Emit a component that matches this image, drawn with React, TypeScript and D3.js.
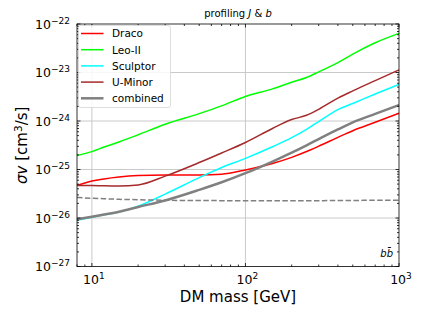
import React, { useEffect, useRef } from 'react';
import * as d3 from 'd3';

// DM masses [GeV] at which the limits are read
const masses = [8, 10, 12, 15, 20, 30, 50, 70, 100, 150, 200, 250, 300, 400, 500, 700, 1000];

// upper limits on <sigma v> [cm^3/s]
const draco = [4.7e-26, 5.8e-26, 6.4e-26, 7.0e-26, 7.5e-26, 7.7e-26, 7.7e-26, 8.0e-26, 9.8e-26, 1.33e-25, 1.78e-25, 2.35e-25, 3.03e-25, 4.6e-25, 6.3e-25, 9.4e-25, 1.45e-24];
const leoII = [1.95e-25, 2.34e-25, 2.9e-25, 3.7e-25, 5.2e-25, 8.6e-25, 1.42e-24, 2.05e-24, 3.2e-24, 4.6e-24, 6.3e-24, 7.9e-24, 1.03e-23, 1.6e-23, 2.4e-23, 4.1e-23, 6.4e-23];
const sculptor = [9.0e-27, 1.04e-26, 1.16e-26, 1.33e-26, 1.75e-26, 3.1e-26, 6.8e-26, 1.1e-25, 1.7e-25, 2.95e-25, 4.55e-25, 6.75e-25, 9.7e-25, 1.72e-24, 2.3e-24, 3.6e-24, 5.7e-24];
const uMinor = [4.7e-26, 4.7e-26, 4.6e-26, 4.55e-26, 4.8e-26, 7.3e-26, 1.39e-25, 2.19e-25, 3.6e-25, 7.0e-25, 1.07e-24, 1.31e-24, 1.74e-24, 2.96e-24, 4.17e-24, 6.8e-24, 1.13e-23];
const combined = [9.4e-27, 1.06e-26, 1.18e-26, 1.35e-26, 1.69e-26, 2.3e-26, 3.8e-26, 5.45e-26, 8.4e-26, 1.46e-25, 2.23e-25, 3.16e-25, 4.24e-25, 6.7e-25, 9.4e-25, 1.4e-24, 2.14e-24];
const thermal = [2.65e-26, 2.55e-26, 2.5e-26, 2.43e-26, 2.38e-26, 2.32e-26, 2.29e-26, 2.28e-26, 2.27e-26, 2.27e-26, 2.27e-26, 2.28e-26, 2.28e-26, 2.29e-26, 2.3e-26, 2.32e-26, 2.33e-26];

const xTicks = [10, 100, 1000];
const xTickExps = ['1', '2', '3'];
const yTicks = [1e-27, 1e-26, 1e-25, 1e-24, 1e-23, 1e-22];
const yTickExps = ['\u221227', '\u221226', '\u221225', '\u221224', '\u221223', '\u221222'];

const series = [
  { name: 'Draco', values: draco, color: '#ff0000', width: 1.5 },
  { name: 'Leo-II', values: leoII, color: '#00ff00', width: 1.5 },
  { name: 'Sculptor', values: sculptor, color: '#00ffff', width: 1.5 },
  { name: 'U-Minor', values: uMinor, color: '#a52a2a', width: 1.5 },
  { name: 'combined', values: combined, color: '#808080', width: 2.5 },
];

const FONT = '"DejaVu Sans", sans-serif';

export default function App() {
  const svgRef = useRef<SVGSVGElement>(null);

  useEffect(() => {
    const svg = d3.select(svgRef.current);
    svg.selectAll('*').remove();

    const width = 421;
    const height = 316;
    const left = 77, right = 399, top = 24, bottom = 266.5;

    const x = d3.scaleLog().domain([8, 1000]).range([left, right]);
    const y = d3.scaleLog().domain([1e-27, 1e-22]).range([bottom, top]);

    svg.attr('width', width).attr('height', height).style('font-family', FONT);

    svg.append('rect').attr('width', width).attr('height', height).attr('fill', '#fff');

    // grid at the decades
    const grid = svg.append('g').attr('stroke', '#c4c4c4').attr('stroke-width', 0.9);
    xTicks.filter(t => t < 1000).forEach(t => {
      grid.append('line').attr('x1', x(t)).attr('x2', x(t)).attr('y1', top).attr('y2', bottom);
    });
    yTicks.filter(t => t > 1e-27 && t < 1e-22).forEach(t => {
      grid.append('line').attr('x1', left).attr('x2', right).attr('y1', y(t)).attr('y2', y(t));
    });

    // curves
    const line = d3.line<[number, number]>()
      .x(d => x(d[0]))
      .y(d => y(d[1]))
      .curve(d3.curveMonotoneX);

    series.forEach(s => {
      svg.append('path')
        .datum(masses.map((m, i) => [m, s.values[i]] as [number, number]))
        .attr('d', line)
        .attr('fill', 'none')
        .attr('stroke', s.color)
        .attr('stroke-width', s.width);
    });

    svg.append('path')
      .datum(masses.map((m, i) => [m, thermal[i]] as [number, number]))
      .attr('d', line)
      .attr('fill', 'none')
      .attr('stroke', '#808080')
      .attr('stroke-width', 1.5)
      .attr('stroke-dasharray', '5.5,2.4');

    // ticks pointing inward, on all four sides
    const ticks = svg.append('g').attr('stroke', '#000').attr('stroke-width', 0.8);
    const xMinor: number[] = [];
    [1, 10, 100].forEach(d => { for (let k = 2; k <= 9; k++) if (d * k >= 8 && d * k < 1000) xMinor.push(d * k); });
    const yMinor: number[] = [];
    [1e-27, 1e-26, 1e-25, 1e-24, 1e-23].forEach(d => { for (let k = 2; k <= 9; k++) yMinor.push(d * k); });

    const xTick = (t: number, len: number) => {
      ticks.append('line').attr('x1', x(t)).attr('x2', x(t)).attr('y1', bottom).attr('y2', bottom - len);
      ticks.append('line').attr('x1', x(t)).attr('x2', x(t)).attr('y1', top).attr('y2', top + len);
    };
    const yTick = (t: number, len: number) => {
      ticks.append('line').attr('x1', left).attr('x2', left + len).attr('y1', y(t)).attr('y2', y(t));
      ticks.append('line').attr('x1', right).attr('x2', right - len).attr('y1', y(t)).attr('y2', y(t));
    };
    xTicks.forEach(t => xTick(t, 3.5));
    xMinor.forEach(t => xTick(t, 2));
    yTicks.forEach(t => yTick(t, 3.5));
    yMinor.forEach(t => yTick(t, 2));

    // frame
    svg.append('rect')
      .attr('x', left).attr('y', top)
      .attr('width', right - left).attr('height', bottom - top)
      .attr('fill', 'none').attr('stroke', '#000').attr('stroke-width', 0.8);

    // tick labels
    xTicks.forEach((t, i) => {
      const txt = svg.append('text')
        .attr('x', x(t) + 2).attr('y', 284)
        .attr('text-anchor', 'middle')
        .attr('font-size', 12.5).attr('fill', '#000');
      txt.append('tspan').text('10');
      txt.append('tspan').attr('dy', -5).attr('font-size', 9).text(xTickExps[i]);
    });
    yTicks.forEach((t, i) => {
      const txt = svg.append('text')
        .attr('x', 70).attr('y', y(t) + 4.5)
        .attr('text-anchor', 'end')
        .attr('font-size', 12.5).attr('fill', '#000');
      txt.append('tspan').text('10');
      txt.append('tspan').attr('dy', -5).attr('font-size', 9).text(yTickExps[i]);
    });

    // axis labels
    svg.append('text')
      .attr('x', (left + right) / 2).attr('y', 302)
      .attr('text-anchor', 'middle')
      .attr('font-size', 15).attr('fill', '#000')
      .text('DM mass [GeV]');

    const yl = svg.append('text')
      .attr('transform', `translate(27,${(top + bottom) / 2}) rotate(-90)`)
      .attr('text-anchor', 'middle')
      .attr('font-size', 15).attr('fill', '#000');
    yl.append('tspan').attr('font-style', 'italic').text('\u03c3v');
    yl.append('tspan').text(' [cm');
    yl.append('tspan').attr('dy', -5).attr('font-size', 10.5).text('3');
    yl.append('tspan').attr('dy', 5).text('/s]');

    // title
    const title = svg.append('text')
      .attr('x', (left + right) / 2).attr('y', 17)
      .attr('text-anchor', 'middle')
      .attr('font-size', 10).attr('fill', '#000');
    title.append('tspan').text('profiling ');
    title.append('tspan').attr('font-style', 'italic').text('J');
    title.append('tspan').text(' & ');
    title.append('tspan').attr('font-style', 'italic').text('b');

    // channel
    svg.append('text')
      .attr('x', right - 6).attr('y', 257)
      .attr('text-anchor', 'end')
      .attr('font-size', 10).attr('font-style', 'italic').attr('fill', '#000')
      .text('b\u0062\u0304');

    // legend
    const lg = svg.append('g');
    lg.append('rect')
      .attr('x', 78.5).attr('y', 25.5)
      .attr('width', 92).attr('height', 82)
      .attr('rx', 2.5)
      .attr('fill', '#fff').attr('fill-opacity', 0.85)
      .attr('stroke', '#d6d6d6').attr('stroke-width', 0.8);
    series.forEach((s, i) => {
      const cy = 33.5 + i * 16.2;
      lg.append('line')
        .attr('x1', 81).attr('x2', 103.5)
        .attr('y1', cy).attr('y2', cy)
        .attr('stroke', s.color).attr('stroke-width', s.width);
      lg.append('text')
        .attr('x', 112).attr('y', cy + 3.8)
        .attr('font-size', 10.5).attr('fill', '#000')
        .text(s.name);
    });
  }, []);

  return (
    <svg ref={svgRef} style={{ position: 'absolute', left: 0, top: 0 }} />
  );
}
